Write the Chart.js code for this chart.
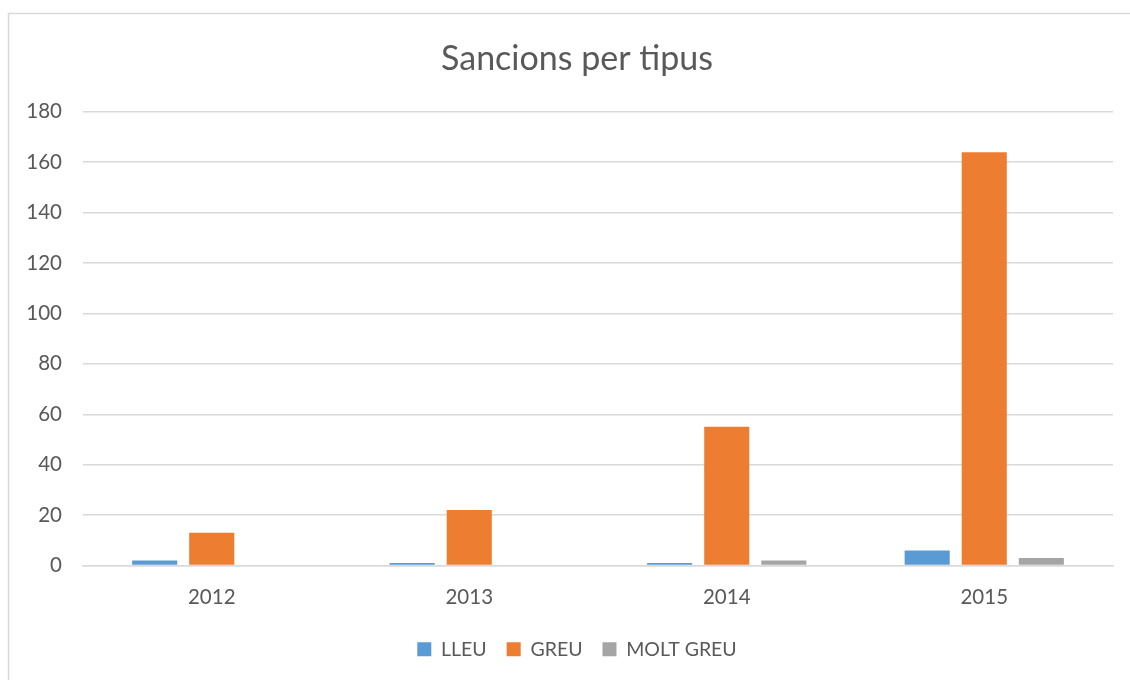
<!DOCTYPE html>
<html>
<head>
<meta charset="utf-8">
<script src="https://cdn.jsdelivr.net/npm/chart.js@4/dist/chart.umd.min.js"></script>
<style>
html,body{margin:0;padding:0;background:#fff;}
#c{display:block;}
</style>
</head>
<body>
<canvas id="c" width="1130" height="680"></canvas>
<script>
const categories = ['2012', '2013', '2014', '2015'];
const lleu = [2, 1, 1, 6];
const greu = [13, 22, 55, 164];
const moltGreu = [0, 0, 2, 3];
const seriesNames = ['LLEU', 'GREU', 'MOLT GREU'];
const seriesColors = ['#5B9BD5', '#ED7D31', '#A5A5A5'];
const yTicks = { min: 0, max: 180, step: 20 };

const FONT = 'Lato, "Open Sans", "Liberation Sans", sans-serif';
const TXT = '#595959';

const borderPlugin = {
  id: 'outerBorder',
  beforeDraw(chart) {
    const ctx = chart.ctx;
    ctx.save();
    ctx.fillStyle = '#ffffff';
    ctx.fillRect(0, 0, chart.width, chart.height);
    ctx.strokeStyle = '#d9d9d9';
    ctx.lineWidth = 1.5;
    ctx.strokeRect(8.5, 13.5, chart.width + 20, chart.height + 20);
    ctx.restore();
  }
};

new Chart(document.getElementById('c'), {
  type: 'bar',
  data: {
    labels: categories,
    datasets: [
      { label: seriesNames[0], data: lleu, backgroundColor: seriesColors[0] },
      { label: seriesNames[1], data: greu, backgroundColor: seriesColors[1] },
      { label: seriesNames[2], data: moltGreu, backgroundColor: seriesColors[2] }
    ]
  },
  options: {
    responsive: false,
    animation: false,
    categoryPercentage: 0.665,
    barPercentage: 0.79,
    layout: { padding: { left: 24, right: 0, top: 20, bottom: 11 } },
    plugins: {
      title: {
        display: true,
        text: 'Sancions per tipus',
        color: TXT,
        font: { family: FONT, size: 34, weight: 'normal' },
        padding: { top: 19, bottom: 32 }
      },
      legend: {
        position: 'bottom',
        labels: {
          color: TXT,
          font: { family: FONT, size: 19.5 },
          boxWidth: 14,
          boxHeight: 14,
          padding: 20
        }
      },
      tooltip: { enabled: false }
    },
    scales: {
      x: {
        grid: { display: false, drawTicks: false },
        border: { display: true, color: '#d9d9d9', width: 1.5 },
        ticks: { color: TXT, font: { family: FONT, size: 20.5 }, padding: 20 },
        afterFit(scale) { scale.height = 54; }
      },
      y: {
        min: yTicks.min,
        max: yTicks.max,
        ticks: { stepSize: yTicks.step, color: TXT, font: { family: FONT, size: 20.5 }, padding: 21 },
        grid: { color: '#d9d9d9', lineWidth: 1.5, drawTicks: false },
        border: { display: false },
        afterFit(scale) { scale.width = 59; }
      },
      yRightSpacer: {
        position: 'right',
        display: true,
        min: yTicks.min,
        max: yTicks.max,
        grid: { display: false, drawTicks: false },
        border: { display: false },
        ticks: { display: false },
        afterFit(scale) { scale.width = 17; }
      }
    }
  },
  plugins: [borderPlugin]
});
</script>
</body>
</html>
